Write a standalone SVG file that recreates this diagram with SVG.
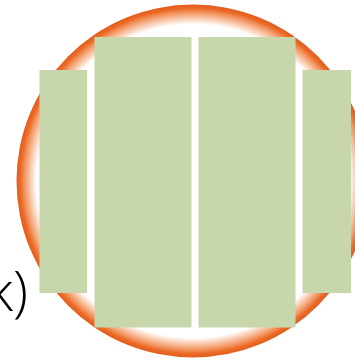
<svg xmlns="http://www.w3.org/2000/svg" width="355" height="363" viewBox="0 0 355 363">
<defs>
<radialGradient id="ring" cx="193" cy="181" r="177" gradientUnits="userSpaceOnUse">
<stop offset="0" stop-color="#ffffff"/>
<stop offset="0.885" stop-color="#ffffff"/>
<stop offset="0.95" stop-color="#F39A66"/>
<stop offset="0.975" stop-color="#EC6A28"/>
<stop offset="1" stop-color="#E05A1A"/>
</radialGradient>
<style>
.bar{fill:#C8D6AB;}
.lbl{font-family:"Open Sans","DejaVu Sans",sans-serif;font-weight:300;font-size:55px;fill:#000;}
</style>
</defs>
<rect width="355" height="363" fill="#ffffff"/>
<g id="circle">
<circle cx="193" cy="181" r="176.5" fill="url(#ring)"/>
</g>
<g id="bar1"><rect class="bar" x="39.5" y="70" width="47.5" height="223"/></g>
<g id="bar2"><rect class="bar" x="94.5" y="37" width="97" height="290.5"/></g>
<g id="bar3"><rect class="bar" x="198.5" y="37" width="97" height="290.5"/></g>
<g id="bar4"><rect class="bar" x="302.5" y="70" width="48.5" height="223"/></g>
<g id="label"><text class="lbl" x="28" y="311" text-anchor="end">k)</text></g>
</svg>
